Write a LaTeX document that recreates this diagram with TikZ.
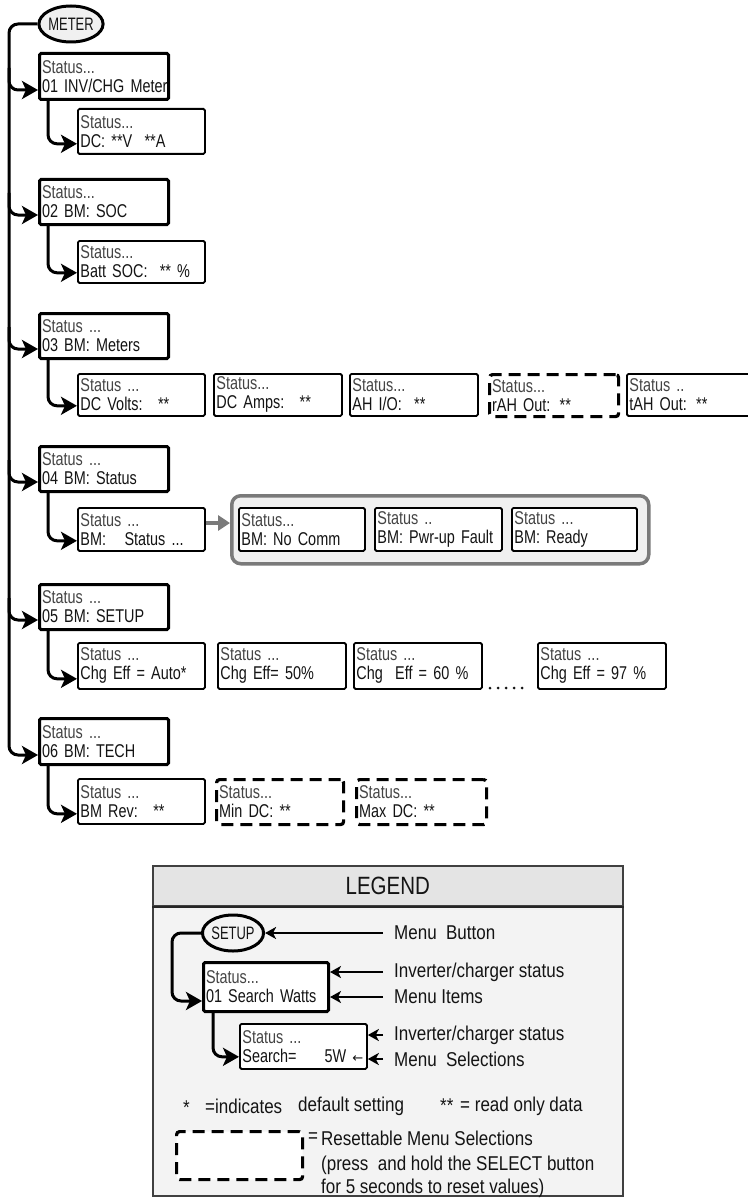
\documentclass[tikz,border=0pt]{standalone}
\usepackage{fontspec}
\setmainfont{Liberation Sans}
\newfontfamily\boxfont{Liberation Sans}[FakeStretch=0.78]
\newfontfamily\legfont{Liberation Sans}[FakeStretch=0.85]
\newfontfamily\ttlfont{Liberation Sans}[FakeStretch=0.82]
\newfontfamily\btnfont{Liberation Sans}[FakeStretch=0.72]
\newfontfamily\arrfont{DejaVu Sans}
\usetikzlibrary{shapes.geometric,arrows.meta,calc}
\definecolor{stc}{HTML}{444444}
\definecolor{txc}{HTML}{141414}
\definecolor{legbg}{HTML}{F3F3F3}
\definecolor{leghd}{HTML}{E4E4E4}
\definecolor{grpbg}{HTML}{F0F0F0}
\definecolor{grpln}{HTML}{7A7A7A}
\newcommand\stl[1]{\textcolor{stc}{#1}}
\newcommand\BX[8]{\node[#1,text width=#5pt,minimum height=#6pt] (#2) at (#3,#4) {\mbox{\stl{#7}}\\\mbox{#8}};}
\begin{document}
\begin{tikzpicture}[x=1pt,y=-1pt,
 boxbase/.style={anchor=north west, inner xsep=2.5pt, inner ysep=0pt, align=left, fill=white, text=txc, font={\boxfont\fontsize{18.5pt}{19pt}\selectfont}},
 mainbox/.style={boxbase, draw, line width=3pt, rounded corners=1.5pt},
 subbox/.style={boxbase, draw, line width=1.8pt, rounded corners=1.5pt},
 dashbox/.style={boxbase, draw, line width=3.2pt, dash pattern=on 12pt off 7pt, rounded corners=3pt},
 conn/.style={line width=3pt, rounded corners=9pt, -{Stealth[length=16pt,width=18pt,inset=4pt]}},
 btn/.style={ellipse, draw, line width=3pt, inner sep=0pt, minimum width=57pt, minimum height=36pt, font={\btnfont\fontsize{18pt}{19pt}\selectfont}, text=txc},
 legtext/.style={anchor=west, inner sep=0pt, font={\legfont\fontsize{20pt}{21pt}\selectfont}, text=txc},
 larrow/.style={line width=2.2pt, -{Stealth[length=11pt,width=12pt,inset=3pt]}},
 dotmark/.style={fill=txc, draw=none}
]
\useasboundingbox[fill=white] (0,0) rectangle (747,1201);

% ---------- menu button ----------
\node[btn, fill=gray!12] (meter) at (71,24) {METER};

% ---------- main items ----------
\BX{mainbox}{b1}{38}{52}{124}{46}{Status...}{01 INV/CHG Meter}
\BX{subbox}{c1}{77}{108}{122}{45}{Status...}{DC: **V~ **A}

\BX{mainbox}{b2}{38}{178}{124}{45}{Status...}{02 BM: SOC}
\BX{subbox}{c2}{77}{240}{122}{42}{Status...}{Batt SOC:~ ** \%}

\BX{mainbox}{b3}{38}{312}{124}{45}{Status ...}{03 BM: Meters}
\BX{subbox}{c3a}{77}{373}{122}{42}{Status ...}{DC Volts:~ **}
\BX{subbox}{c3b}{213}{373}{123}{42}{Status...}{DC Amps:~ **}
\BX{subbox}{c3c}{349}{373}{123}{42}{Status...}{AH I/O:~ **}
\BX{dashbox}{c3d}{488}{373}{124}{42}{Status...}{rAH Out: **}
\BX{subbox}{c3e}{626}{373}{129}{42}{Status ..}{tAH Out: **}

\BX{mainbox}{b4}{38}{445}{124}{45}{Status ...}{04 BM: Status}
\BX{subbox}{c4}{77}{507}{122}{43}{Status ...}{BM:~~ Status ...}
\node[anchor=north west, draw=grpln, fill=grpbg, line width=3.5pt, rounded corners=9pt, minimum width=417pt, minimum height=68pt, inner sep=0pt] (grp) at (230,494) {};
\BX{subbox}{g1}{238}{507}{121}{43}{Status...}{BM: No Comm}
\BX{subbox}{g2}{374}{507}{122}{43}{Status ..}{BM: Pwr-up Fault}
\BX{subbox}{g3}{511}{507}{120}{43}{Status ...}{BM: Ready}

\BX{mainbox}{b5}{38}{583}{124}{45}{Status ...}{05 BM: SETUP}
\BX{subbox}{c5a}{77}{642}{122}{46}{Status ...}{Chg Eff = Auto*}
\BX{subbox}{c5b}{217}{642}{123}{46}{Status ...}{Chg Eff= 50\%}
\BX{subbox}{c5c}{353}{642}{123}{46}{Status ...}{Chg~ Eff = 60 \%}
\BX{subbox}{c5d}{537}{642}{123}{46}{Status ...}{Chg Eff = 97 \%}
\foreach \dx in {490,498,506,514,522} \fill[dotmark] (\dx,688) circle (1.5pt);

\BX{mainbox}{b6}{38}{717}{124}{46}{Status ...}{06 BM: TECH}
\BX{subbox}{c6a}{77}{778}{122}{45}{Status ...}{BM Rev:~ **}
\BX{dashbox}{c6b}{215}{778}{122}{45}{Status...}{Min DC: **}
\BX{dashbox}{c6c}{355}{778}{125}{45}{Status...}{Max DC: **}

% ---------- connectors ----------
\foreach \b in {b1,b2,b3,b4,b5,b6}
  \coordinate (t\b) at ($(\b.south west)+(0,-11)$);
\foreach \c in {c1,c2,c3a,c4,c5a,c6a}
  \coordinate (t\c) at ($(\c.south west)+(0,-11)$);
\coordinate (spine) at (9,700);
\draw[conn] (meter.west) -| (spine) |- (tb6);
\foreach \b in {b1,b2,b3,b4,b5}
  \draw[conn] ($(t\b)+(-29,-22)$) |- (t\b);
\draw[conn] ($(b1.south west)+(10,0)$) |- (tc1);
\draw[conn] ($(b2.south west)+(10,0)$) |- (tc2);
\draw[conn] ($(b3.south west)+(10,0)$) |- (tc3a);
\draw[conn] ($(b4.south west)+(10,0)$) |- (tc4);
\draw[conn] ($(b5.south west)+(10,0)$) |- (tc5a);
\draw[conn] ($(b6.south west)+(10,0)$) |- (tc6a);
\draw[line width=4pt, grpln, -{Triangle[length=12pt,width=15pt]}] (c4.east |- 0,523) -- (grp.west |- 0,523);

% ---------- legend ----------
\node[anchor=north west, draw=black!75, fill=legbg, line width=1.5pt, minimum width=470pt, minimum height=330pt, inner sep=0pt] (legbody) at (152,865) {};
\node[anchor=north west, draw=black!75, fill=leghd, line width=1.5pt, minimum width=470pt, minimum height=40pt, inner sep=0pt, text=txc, font={\ttlfont\fontsize{25pt}{26pt}\selectfont}] (leghead) at (152,865) {LEGEND};
\draw[line width=2pt, black!85] (leghead.south west) -- (leghead.south east);

\node[btn, fill=legbg] (setup) at (233,933) {SETUP};
\BX{mainbox}{lb1}{202}{961}{120}{49}{Status...}{01 Search Watts}
\BX{subbox}{lb2}{239}{1023}{122}{45}{Status ...}{Search=\hspace{28pt}5W {\arrfont\fontsize{13pt}{15pt}\selectfont ←}}
\coordinate (tlb1) at ($(lb1.south west)+(0,-12)$);
\coordinate (tlb2) at ($(lb2.south west)+(0,-13)$);
\coordinate (lspine) at (172,960);
\draw[conn] (setup.west) -| (lspine) |- (tlb1);
\draw[conn] ($(lb1.south west)+(11,0)$) |- (tlb2);

\node[legtext] (lmb) at (394,933) {Menu~ Button};
\node[legtext] (lis1) at (394,972) {Inverter/charger status};
\node[legtext] (lmi) at (394,997) {Menu Items};
\node[legtext] (lis2) at (394,1035) {Inverter/charger status};
\node[legtext] (lms) at (394,1059) {Menu~ Selections};
\draw[larrow, shorten <=11pt] (lmb.west) -- (setup.east);
\draw[larrow, shorten <=11pt] (lis1.west) -- (lis1.west -| lb1.east);
\draw[larrow, shorten <=11pt] (lmi.west) -- (lmi.west -| lb1.east);
\draw[larrow, shorten <=11pt] (lis2.west) -- (lis2.west -| lb2.east);
\draw[larrow, shorten <=11pt] (lms.west) -- (lms.west -| lb2.east);

\node[legtext] (ls1) at (183,1108) {*};
\node[legtext] (ls2) at (205,1106) {=indicates};
\node[legtext] (ls3) at (298,1106) {default setting};
\node[legtext] (ls4) at (440,1106) {**};
\node[legtext] (ls5) at (460,1106) {= read only data};

\node[dashbox, minimum width=126pt, minimum height=48pt] (ldash) at (175,1130) {};
\node[legtext] (lr0) at (308,1138) {=};
\node[legtext] (lr1) at (321,1138) {Resettable Menu Selections};
\node[legtext] (lr2) at (321,1165) {(press~ and hold the SELECT button};
\node[legtext] (lr3) at (321,1188) {for 5 seconds to reset values)};
\end{tikzpicture}
\end{document}
